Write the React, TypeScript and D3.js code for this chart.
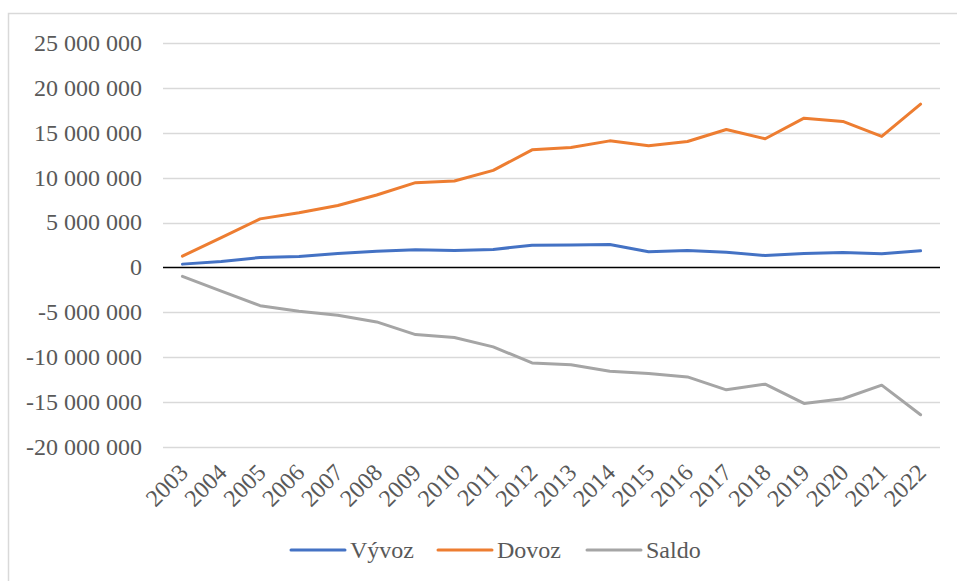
import React from "react";
import * as d3 from "d3";

const years = [
  "2003", "2004", "2005", "2006", "2007", "2008", "2009", "2010", "2011", "2012",
  "2013", "2014", "2015", "2016", "2017", "2018", "2019", "2020", "2021", "2022",
];
const vyvoz = [
  370000, 670000, 1110000, 1220000, 1560000, 1810000, 1960000, 1890000, 2000000, 2480000,
  2500000, 2560000, 1740000, 1890000, 1700000, 1330000, 1560000, 1670000, 1520000, 1850000,
];
const dovoz = [
  1260000, 3330000, 5410000, 6100000, 6900000, 8070000, 9440000, 9630000, 10810000, 13100000,
  13370000, 14100000, 13550000, 14030000, 15370000, 14330000, 16630000, 16260000, 14600000, 18190000,
];
const saldo = [
  -1000000, -2630000, -4260000, -4890000, -5330000, -6070000, -7480000, -7810000, -8850000, -10630000,
  -10850000, -11560000, -11810000, -12190000, -13630000, -13000000, -15150000, -14630000, -13110000, -16410000,
];
const yTicks = [-20000000, -15000000, -10000000, -5000000, 0, 5000000, 10000000, 15000000, 20000000, 25000000];
const seriesNames = ["Vývoz", "Dovoz", "Saldo"];
const seriesColors = ["#4472c4", "#ed7d31", "#a5a5a5"];

const W = 957;
const H = 581;
const left = 163;
const right = 940;
const textColor = "#595959";
const font = "Times New Roman";

const fmt = (v: number) => {
  const s = d3.format(",")(Math.abs(v)).replace(/,/g, " ");
  return (v < 0 ? "-" : "") + s;
};

export default function App() {
  const x = d3.scaleBand().domain(years).range([left, right]);
  const y = d3.scaleLinear().domain([-20000000, 25000000]).range([447, 43]);
  const cx = (d: string) => x(d)! + x.bandwidth() / 2;
  const line = d3
    .line<number>()
    .x((_, i) => cx(years[i]))
    .y((v) => y(v));

  const legendX = [291, 438, 587];

  return (
    <svg width={W} height={H} style={{ position: "absolute", left: 0, top: 0, background: "white" }}>
      {/* outer frame */}
      <rect x={8.5} y={13.5} width={1000} height={700} fill="white" stroke="#d9d9d9" strokeWidth={1.5} />

      {/* gridlines */}
      {yTicks
        .filter((t) => t !== 0)
        .map((t) => (
          <line
            key={t}
            x1={left}
            x2={right}
            y1={Math.round(y(t)) + 0.5}
            y2={Math.round(y(t)) + 0.5}
            stroke="#d9d9d9"
            strokeWidth={1.5}
          />
        ))}

      {/* y labels */}
      {yTicks.map((t) => (
        <text key={t} x={142} y={y(t)} dy="0.33em" textAnchor="end" fill={textColor} fontFamily={font} fontSize={24}>
          {fmt(t)}
        </text>
      ))}

      {/* zero line */}
      <line x1={left} x2={right} y1={y(0)} y2={y(0)} stroke="#000" strokeWidth={1.5} />

      {/* x labels */}
      {years.map((d) => (
        <text
          key={d}
          transform={`translate(${cx(d) + 7},474) rotate(-45)`}
          textAnchor="end"
          fill={textColor}
          fontFamily={font}
          fontSize={24}
        >
          {d}
        </text>
      ))}

      {/* series */}
      {[vyvoz, dovoz, saldo].map((s, i) => (
        <path
          key={seriesNames[i]}
          d={line(s) || ""}
          fill="none"
          stroke={seriesColors[i]}
          strokeWidth={3}
          strokeLinejoin="round"
          strokeLinecap="round"
        />
      ))}

      {/* legend */}
      {seriesNames.map((n, i) => (
        <g key={n} transform={`translate(${legendX[i]},550)`}>
          <line x1={0} x2={54} stroke={seriesColors[i]} strokeWidth={3} strokeLinecap="round" />
          <text x={59} dy="0.33em" fill={textColor} fontFamily={font} fontSize={24}>
            {n}
          </text>
        </g>
      ))}
    </svg>
  );
}
